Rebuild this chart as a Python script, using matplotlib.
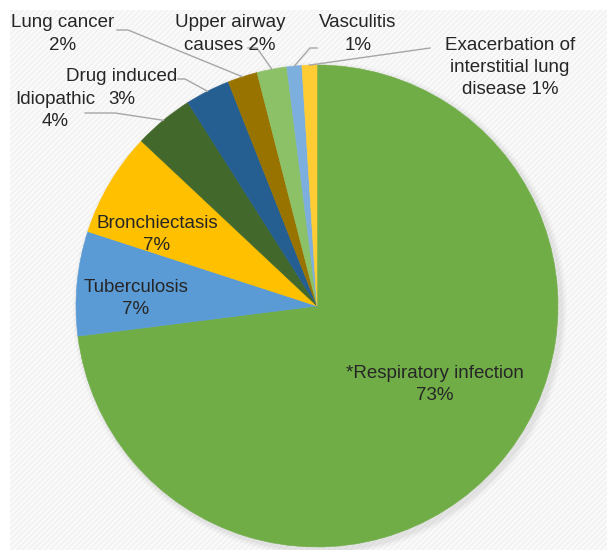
import matplotlib
matplotlib.use("Agg")
import matplotlib.pyplot as plt
import numpy as np
from matplotlib.patches import Rectangle, Circle

causes = ["*Respiratory infection", "Tuberculosis", "Bronchiectasis", "Idiopathic",
          "Drug induced", "Lung cancer", "Upper airway\ncauses", "Vasculitis",
          "Exacerbation of\ninterstitial lung\ndisease"]
percent = [73, 7, 7, 4, 3, 2, 2, 1, 1]
colors = ["#70ad47", "#5b9bd5", "#ffc000", "#43682b", "#255e91",
          "#997300", "#8cc168", "#7cafdd", "#ffcd33"]

label_text = [
    "*Respiratory infection\n73%", "Tuberculosis\n7%", "Bronchiectasis\n7%",
    "Idiopathic\n4%", "Drug induced\n3%", "Lung cancer\n2%",
    "Upper airway\ncauses 2%", "Vasculitis\n1%",
    "Exacerbation of\ninterstitial lung\ndisease 1%",
]

W, H = 607, 550
CX, CY, R = 317, 306, 241


def px(x, y):
    return (x - CX) / R, (CY - y) / R


fig = plt.figure(figsize=(W / 100, H / 100), dpi=100)
ax = fig.add_axes([0, 0, 1, 1])

wedges, _ = ax.pie(percent, colors=colors, startangle=90, counterclock=False,
                   radius=1, wedgeprops=dict(linewidth=0.4), normalize=True)
for w, c in zip(wedges, colors):
    w.set_edgecolor(c)
    w.set_zorder(2)

ax.set_xlim(px(0, 0)[0], px(W, 0)[0])
ax.set_ylim(px(0, H)[1], px(0, 0)[1])
ax.set_aspect("equal")
ax.axis("off")

# faint striped background panel
x0, y0 = px(10, H)
x1, y1 = px(W, 10)
ax.add_patch(Rectangle((x0, y0), x1 - x0, y1 - y0, facecolor="#fafafa",
                       edgecolor="#f0f0f0", hatch="//////", linewidth=0, zorder=0))
# soft shadow
for i, a in enumerate([0.10, 0.07, 0.05]):
    ax.add_patch(Circle((3 / R, -3 / R), 1 + (i + 1) * 2 / R, color="#999999",
                        alpha=a, linewidth=0, zorder=1))

font = dict(family="Liberation Sans", size=13.5, color="#262626",
            ha="center", va="center")
LINE = 22  # pixels between text lines

# label centres (pixels) and leader line elbows (pixels)
lab_pos = [(435, 384), (136, 298), (157, 235), (55, 111), (122, 88),
           (63, 34), (230, 34), (358, 34), (510, 68)]
leader = [None, None, None,
          [(85, 113), (115, 113)],
          [(178, 79), (185, 79)],
          [(117, 30), (128, 30)],
          [(248, 48), (257, 48)],
          [(317, 48), (310, 48)],
          [(430, 48)]]

for w, (lx, ly), txt, elb in zip(wedges, lab_pos, label_text, leader):
    lines = txt.split("\n")
    top = ly - LINE * (len(lines) - 1) / 2
    for k, line in enumerate(lines):
        x, y = px(lx, top + k * LINE)
        ax.text(x, y, line, zorder=5, **font)
    if elb is None:
        continue
    ang = np.deg2rad((w.theta1 + w.theta2) / 2)
    ex, ey = np.cos(ang), np.sin(ang)
    pts = [px(*p) for p in elb] + [(ex, ey)]
    xs, ys = zip(*pts)
    ax.plot(xs, ys, color="#a6a6a6", lw=1, zorder=4)

fig.savefig("out.png", dpi=100)
